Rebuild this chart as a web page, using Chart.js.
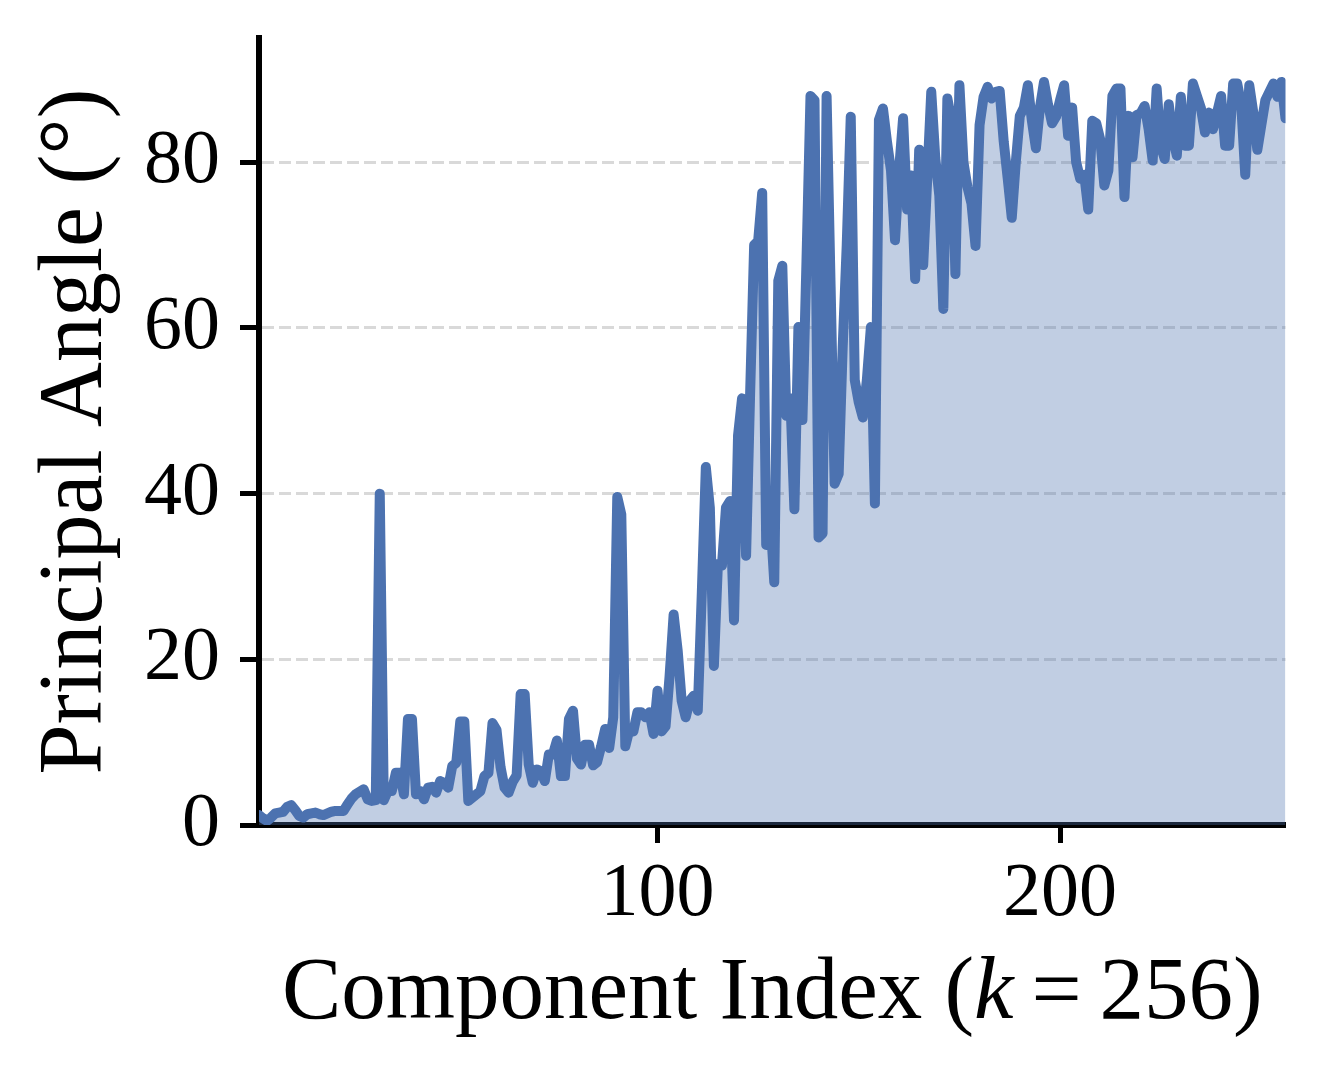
<!DOCTYPE html>
<html>
<head>
<meta charset="utf-8">
<title>Principal Angle per Component</title>
<script src="https://cdn.jsdelivr.net/npm/chart.js@4.4.1/dist/chart.umd.min.js"></script>
<style>
  html, body { margin: 0; padding: 0; background: #fff; }
  #wrap { width: 1325px; height: 1086px; position: relative; }
</style>
</head>
<body>
<div id="wrap"><canvas id="angleChart"></canvas></div>
<script>
// component index k = 1..256 (x categories)
const componentIndex = Array.from({ length: 256 }, (_, i) => i + 1)

// principal angle in degrees
const principalAngle = [
  1.2, 0.8, 0.5, 0.9, 1.4, 1.5, 1.6, 2.2, 2.4, 1.8,
  1.1, 0.9, 1.3, 1.4, 1.5, 1.3, 1.2, 1.4, 1.6, 1.7,
  1.7, 1.7, 2.5, 3.2, 3.7, 4.0, 4.3, 3.1, 2.9, 3.0,
  40.0, 3.0, 4.1, 4.1, 6.3, 6.3, 3.7, 12.8, 12.8, 3.7,
  4.1, 3.1, 4.5, 4.6, 3.9, 5.3, 5.1, 4.5, 7.1, 7.5,
  12.5, 12.5, 2.9, 3.3, 3.7, 4.1, 5.9, 6.3, 12.3, 11.5,
  7.0, 4.5, 3.9, 5.2, 6.0, 15.8, 15.8, 7.3, 5.1, 6.7,
  6.5, 5.3, 8.5, 8.5, 10.2, 5.9, 5.9, 12.8, 13.8, 8.0,
  7.3, 9.7, 9.7, 7.2, 7.6, 9.5, 11.6, 9.3, 13.0, 39.6,
  37.5, 9.5, 11.5, 11.3, 13.6, 13.6, 13.0, 13.6, 11.0, 16.2,
  11.3, 11.9, 18.0, 25.4, 21.1, 15.0, 13.0, 15.0, 15.6, 13.8,
  28.0, 43.2, 38.3, 19.2, 31.5, 31.3, 38.3, 39.1, 24.7, 47.0,
  51.5, 32.5, 52.0, 70.0, 70.5, 76.3, 33.8, 37.3, 29.3, 65.7,
  67.5, 49.4, 51.5, 38.1, 60.1, 48.9, 68.0, 88.0, 87.5, 34.7,
  35.2, 88.0, 65.0, 41.2, 42.4, 57.7, 70.0, 85.5, 53.7, 51.0,
  49.2, 53.7, 60.1, 38.8, 85.1, 86.5, 82.5, 79.0, 70.6, 79.0,
  85.3, 74.3, 78.4, 65.9, 81.5, 67.6, 78.0, 88.5, 80.5, 76.0,
  62.3, 87.7, 85.1, 66.5, 89.3, 80.0, 77.0, 75.0, 69.9, 84.5,
  87.9, 89.1, 87.7, 88.5, 88.6, 82.5, 78.0, 73.3, 80.0, 85.6,
  86.6, 89.3, 85.0, 81.7, 86.6, 89.7, 87.0, 84.7, 85.5, 87.5,
  89.3, 83.2, 86.6, 80.0, 78.0, 78.5, 74.3, 85.0, 84.7, 82.7,
  77.2, 79.0, 88.0, 88.9, 88.9, 75.8, 85.6, 80.6, 85.7, 85.9,
  86.8, 84.0, 80.2, 88.9, 82.0, 80.4, 87.0, 83.0, 80.8, 87.9,
  82.0, 82.0, 89.5, 88.0, 86.5, 83.6, 86.0, 84.0, 86.0, 88.0,
  82.0, 82.0, 89.5, 89.5, 87.0, 78.5, 89.3, 86.0, 81.5, 84.5,
  87.5, 88.5, 89.5, 87.9, 89.7, 85.3
]

const xTicks = [100, 200]
const yTicks = [0, 20, 40, 60, 80]

const yTitle = 'Principal Angle (°)'
// the k is italic in the original, so the x title is kept in parts
const xTitleParts = [
  { text: 'Component Index (', italic: false },
  { text: 'k', italic: true },
  { text: '\u2009=\u2009256)', italic: false },
]

const lineColor = '#4c72b0'
const fillColor = 'rgba(76, 114, 176, 0.35)'
const serif = "'Liberation Serif', 'Times New Roman', serif"

const xTitlePlugin = {
  id: 'xTitle',
  afterDraw(chart) {
    const { ctx, chartArea } = chart
    ctx.save()
    ctx.fillStyle = '#000'
    ctx.textAlign = 'left'
    ctx.textBaseline = 'alphabetic'
    const fonts = xTitleParts.map((p) => (p.italic ? 'italic ' : '') + '89px ' + serif)
    const widths = xTitleParts.map((p, i) => {
      ctx.font = fonts[i]
      return ctx.measureText(p.text).width
    })
    const total = widths.reduce((a, b) => a + b, 0)
    let x = (chartArea.left + chartArea.right) / 2 - total / 2
    const y = chartArea.bottom + 193
    xTitleParts.forEach((p, i) => {
      ctx.font = fonts[i]
      ctx.fillText(p.text, x, y)
      x += widths[i]
    })
    ctx.restore()
  },
}

const angleChart = new Chart('angleChart', {
  type: 'line',
  data: {
    datasets: [
      {
        label: 'Principal Angle',
        data: componentIndex.map((k, i) => ({ x: k, y: principalAngle[i] })),
        borderColor: lineColor,
        backgroundColor: fillColor,
        borderWidth: 10,
        borderJoinStyle: 'round',
        borderCapStyle: 'round',
        fill: 'origin',
        tension: 0,
        pointRadius: 0,
        pointHoverRadius: 0,
      },
    ],
  },
  options: {
    responsive: true,
    maintainAspectRatio: false,
    animation: false,
    layout: { padding: { top: 38, right: 39.5, bottom: 0, left: 0 } },
    plugins: {
      legend: { display: false },
      tooltip: { enabled: false },
    },
    scales: {
      x: {
        type: 'linear',
        min: 1,
        max: 256,
        afterBuildTicks: (scale) => {
          scale.ticks = xTicks.map((v) => ({ value: v }))
        },
        afterFit: (scale) => {
          scale.height = 261
          scale.paddingLeft = 0
          scale.paddingRight = 0
        },
        grid: {
          drawOnChartArea: false,
          tickLength: 18,
          tickColor: '#000',
          tickWidth: 5,
        },
        border: { color: '#000', width: 6 },
        ticks: {
          color: '#000',
          font: { family: serif, size: 76 },
          padding: 6,
          maxRotation: 0,
          autoSkip: false,
        },
      },
      y: {
        min: 0,
        max: 95,
        afterBuildTicks: (scale) => {
          scale.ticks = yTicks.map((v) => ({ value: v }))
        },
        afterFit: (scale) => {
          scale.width = 259
          scale.paddingTop = 0
          scale.paddingBottom = 0
        },
        grid: {
          color: (c) => (c.tick && c.tick.value === 0 ? 'rgba(0,0,0,0)' : '#d9d9d9'),
          lineWidth: 3,
          tickLength: 19,
          tickColor: '#000',
          tickWidth: 5,
        },
        border: { color: '#000', width: 6, dash: [12, 5] },
        ticks: {
          color: '#000',
          font: { family: serif, size: 76 },
          padding: 20,
          autoSkip: false,
        },
        title: {
          display: true,
          text: yTitle,
          color: '#000',
          font: { family: serif, size: 90 },
          padding: { top: 23, bottom: 0 },
        },
      },
    },
  },
  plugins: [xTitlePlugin],
})
</script>
</body>
</html>
